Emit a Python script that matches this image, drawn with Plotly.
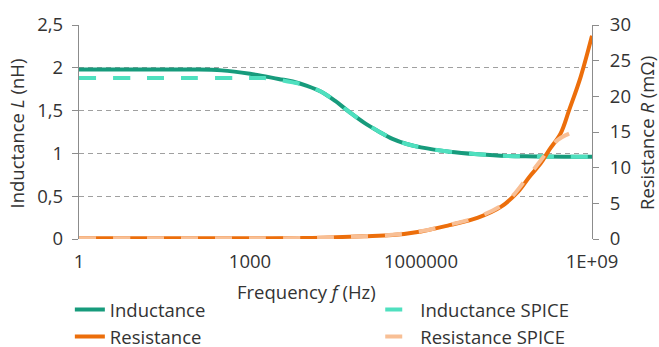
import plotly.graph_objects as go

# Frequency in Hz (log10 exponents listed for readability)
freq_exp = [0, 1, 2, 2.5, 3, 3.5, 3.75, 4.0, 4.25, 4.5, 4.75, 5.0, 5.25, 5.5,
            5.75, 6.0, 6.5, 7.0, 7.5, 8.0, 8.5, 9.0]
inductance = [1.98, 1.98, 1.98, 1.97, 1.93, 1.87, 1.84, 1.79, 1.72, 1.61, 1.48,
              1.36, 1.26, 1.17, 1.11, 1.07, 1.02, 0.99, 0.97, 0.965, 0.96, 0.96]

spice_l_exp = [0, 1, 2, 3, 3.25, 3.5, 3.75, 4.0, 4.25, 4.5, 4.75, 5.0, 5.25,
               5.5, 5.75, 6.0, 6.5, 7.0, 7.5, 8.0, 8.5, 9.0]
inductance_spice = [1.88, 1.88, 1.88, 1.88, 1.88, 1.86, 1.83, 1.79, 1.72, 1.61,
                    1.48, 1.36, 1.26, 1.17, 1.11, 1.07, 1.02, 0.99, 0.97, 0.965,
                    0.96, 0.96]

res_exp = [0, 1, 2, 3, 4.0, 4.5, 5.0, 5.5, 6.0, 6.5, 7.0, 7.4, 7.7, 7.9, 8.1,
           8.25, 8.45, 8.6, 8.8, 9.0]
resistance = [0.1, 0.1, 0.1, 0.1, 0.15, 0.25, 0.38, 0.55, 1.05, 1.95, 3.0, 4.5,
              6.6, 8.7, 10.6, 12.5, 14.8, 18.1, 22.7, 28.5]

spice_r_exp = [0, 1, 2, 3, 4.0, 4.5, 5.0, 5.5, 6.0, 6.5, 7.0, 7.5, 7.9, 8.1,
               8.25, 8.4, 8.55, 8.67]
resistance_spice = [0.1, 0.1, 0.1, 0.1, 0.15, 0.25, 0.38, 0.6, 1.1, 2.0, 3.1,
                    5.2, 9.0, 11.0, 12.6, 13.9, 14.6, 15.0]

x_tickvals = [1, 1e3, 1e6, 1e9]
x_ticktext = ["1", "1000", "1000000", "1E+09"]

to_hz = lambda exps: [10 ** e for e in exps]

FONT = "Open Sans"
TXT = "#333333"
FS = 18.5

fig = go.Figure()
fig.add_trace(go.Scatter(x=to_hz(freq_exp), y=inductance, name="Inductance",
                         mode="lines", line=dict(color="#179b7c", width=4, shape="spline"),
                         legend="legend", legendgroup="a"))
fig.add_trace(go.Scatter(x=to_hz(spice_l_exp), y=inductance_spice, name="Inductance SPICE",
                         mode="lines", line=dict(color="#4fe0bf", width=4, dash="17px,17px",
                                                 shape="spline"),
                         legend="legend2", legendgroup="b"))
fig.add_trace(go.Scatter(x=to_hz(res_exp), y=resistance, name="Resistance",
                         mode="lines", yaxis="y2",
                         line=dict(color="#ec6e0b", width=4, shape="spline"),
                         legend="legend", legendgroup="c"))
fig.add_trace(go.Scatter(x=to_hz(spice_r_exp), y=resistance_spice, name="Resistance SPICE",
                         mode="lines", yaxis="y2",
                         line=dict(color="#f8bf95", width=4, dash="17px,17px", shape="spline"),
                         legend="legend2", legendgroup="d"))

PL, PR, PT, PB = 79, 592, 25, 239
pw, ph = PR - PL, PB - PT

def px_x(x):
    return (x - PL) / pw

def px_y(y):
    return (PB - y) / ph

fig.update_layout(
    width=659, height=347,
    margin=dict(l=PL, r=659 - PR, t=PT, b=347 - PB, autoexpand=False),
    paper_bgcolor="white", plot_bgcolor="white",
    separators=", ",
    font=dict(family=FONT, size=FS, color=TXT),
    xaxis=dict(type="log", range=[0, 9], tickvals=x_tickvals, ticktext=x_ticktext,
               showgrid=False, zeroline=False, showline=False, ticks="",
               tickangle=0, automargin=False, ticklabelstandoff=9,
               tickfont=dict(size=FS, color=TXT)),
    yaxis=dict(range=[0, 2.5], dtick=0.5, showgrid=True, gridcolor="#a0a0a0",
               griddash="5px,4px", gridwidth=1.3, zeroline=False, automargin=False,
               showline=True, linecolor="#8c8c8c", linewidth=1.3,
               ticks="outside", ticklen=6, tickcolor="#8c8c8c", ticklabelstandoff=5,
               tickfont=dict(size=FS, color=TXT)),
    yaxis2=dict(range=[0, 30], dtick=5, overlaying="y", side="right", automargin=False,
                showgrid=False, zeroline=False, showline=True, linecolor="#8c8c8c",
                linewidth=1.3, ticks="outside", ticklen=6, tickcolor="#8c8c8c",
                ticklabelstandoff=7,
                tickfont=dict(size=FS, color=TXT)),
    legend=dict(xref="container", yref="container", x=0.106, y=0.068,
                xanchor="left", yanchor="middle", orientation="v",
                tracegroupgap=0, bgcolor="rgba(0,0,0,0)",
                font=dict(size=FS, color=TXT)),
    legend2=dict(xref="container", yref="container", x=0.577, y=0.068,
                 xanchor="left", yanchor="middle", orientation="v",
                 tracegroupgap=0, bgcolor="rgba(0,0,0,0)",
                 font=dict(size=FS, color=TXT)),
    annotations=[
        dict(text="Frequency <i>f</i> (Hz)", xref="paper", yref="paper",
             x=px_x(306), y=px_y(291), xanchor="center", yanchor="middle",
             showarrow=False, font=dict(size=FS, color=TXT)),
        dict(text="Inductance <i>L</i> (nH)", xref="paper", yref="paper",
             x=px_x(15.5), y=px_y(134), xanchor="center", yanchor="middle",
             textangle=-90, showarrow=False, font=dict(size=FS, color=TXT)),
        dict(text="Resistance <i>R</i> (mΩ)", xref="paper", yref="paper",
             x=px_x(646), y=px_y(133), xanchor="center", yanchor="middle",
             textangle=-90, showarrow=False, font=dict(size=FS, color=TXT)),
    ],
)

fig.write_html("out.html", config={"displayModeBar": False},
               post_script="document.body.style.margin='0';")
